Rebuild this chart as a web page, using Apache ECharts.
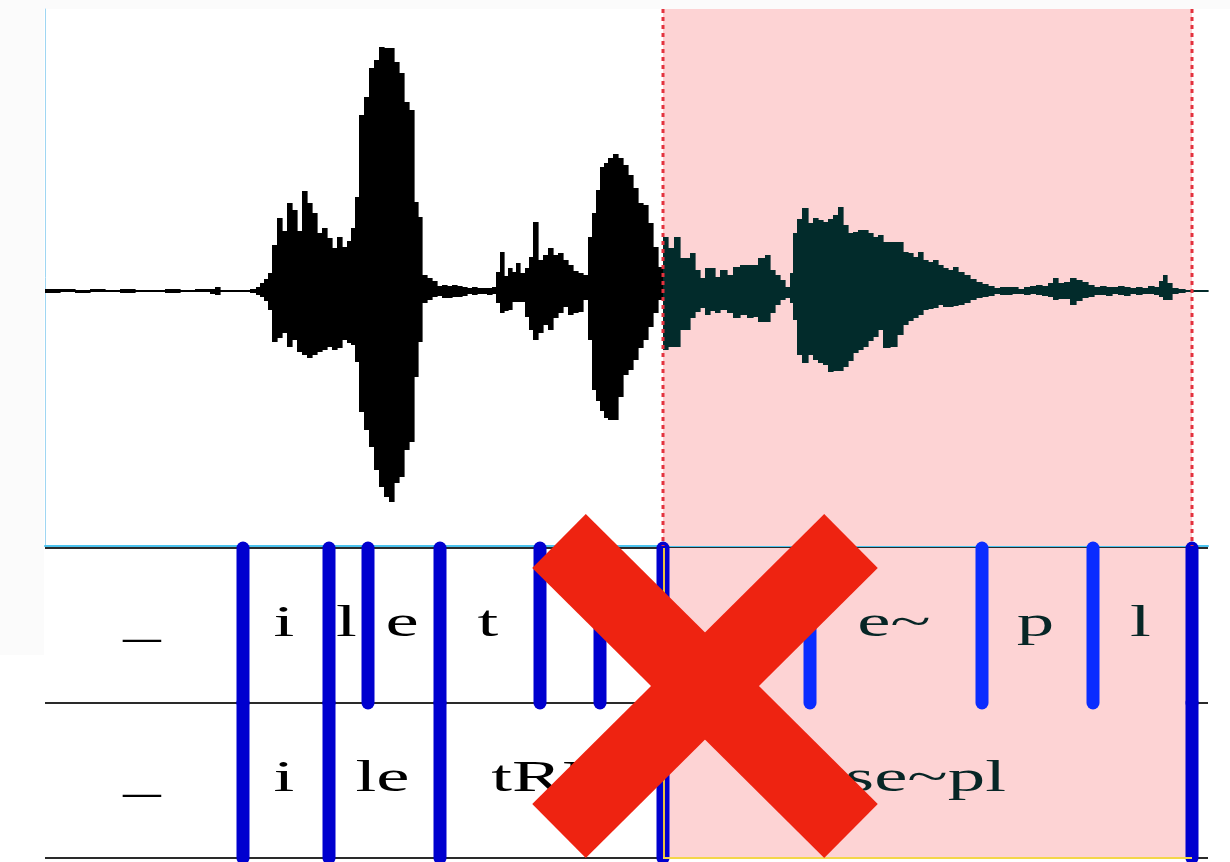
<!DOCTYPE html>
<html><head><meta charset="utf-8">
<script src="https://cdn.jsdelivr.net/npm/echarts@6/dist/echarts.min.js"></script>
<style>html,body{margin:0;padding:0;background:#fff}#c{width:1230px;height:862px}</style>
</head><body><div id="c"></div>
<script>
// time (ms) of each waveform column, and its upper / lower amplitude (arbitrary units)
const waveTime = [0,15,30,45,60,75,90,105,120,135,150,165,170,175,190,205,
  211,215,219,223,227,232,237,242,247,252,257,262,267,272,
  277,282,287,292,297,302,306,310,314,319,324,329,334,339,344,349,354,359,364,369,
  373,377,382,387,392,397,402,407,412,417,422,427,432,437,442,447,451,455,459,463,
  467,471,475,480,484,488,493,498,503,508,513,518,523,528,533,538,543,547,551,555,
  559,563,568,573,578,583,588,593,598,603,608,613,618,623,629,635,640,645,650,655,
  660,665,670,675,682,688,695,702,708,713,720,725,730,735,740,745,748,752,757,763,
  768,773,778,783,788,793,798,803,808,813,818,823,828,833,838,845,852,858,863,868,
  873,878,883,888,893,898,903,908,913,919,925,931,937,943,949,955,961,967,973,979,
  985,991,997,1003,1008,1013,1019,1025,1031,1037,1043,1049,1055,1061,1067,1073,1079,1085,1091,1097,
  1103,1109,1114,1118,1122,1127,1133,1140,1147,1155];
const waveMax = [2,2,1,2,1,2,1,1,2,1,2,2,4,1,1,2,
  4,8,12,18,46,73,60,88,81,60,100,88,78,58,
  63,53,43,54,44,50,63,94,176,194,223,231,244,243,243,229,218,189,181,89,
  74,16,13,10,5,6,5,6,5,4,3,4,3,3,3,4,19,39,15,23,
  19,28,18,23,34,69,31,36,43,36,38,31,26,20,18,16,54,78,101,124,
  128,133,137,133,126,116,103,88,86,68,44,24,54,43,54,33,33,38,21,13,
  23,23,14,21,16,24,26,26,26,33,36,21,16,11,4,18,58,72,83,68,
  73,71,69,72,76,84,66,58,59,61,61,58,54,56,49,49,49,39,38,34,
  39,31,29,31,26,23,21,24,19,16,12,9,7,5,3,4,4,4,2,4,
  5,6,5,8,13,8,9,13,11,9,6,4,5,4,4,5,4,3,4,3,
  5,4,10,16,8,3,2,1,1,1];
const waveMin = [-2,-1,-2,-1,-1,-2,-1,-1,-2,-1,-1,-3,-4,-1,-1,-2,
  -4,-6,-10,-19,-51,-47,-42,-56,-49,-61,-64,-67,-64,-61,
  -59,-56,-59,-57,-49,-52,-54,-71,-121,-139,-156,-179,-196,-206,-211,-192,-186,-159,-151,-86,
  -51,-12,-9,-6,-5,-7,-7,-6,-6,-5,-3,-4,-3,-3,-4,-3,-12,-22,-20,-19,
  -11,-11,-11,-26,-39,-49,-42,-34,-39,-27,-22,-16,-24,-22,-21,-9,-49,-99,-110,-120,
  -127,-129,-129,-106,-84,-79,-69,-57,-49,-36,-22,-9,-59,-56,-56,-39,-39,-27,-21,-17,
  -24,-20,-22,-19,-22,-27,-24,-27,-26,-31,-31,-22,-14,-9,-7,-12,-29,-64,-72,-64,
  -69,-72,-74,-81,-80,-80,-76,-70,-62,-59,-56,-50,-46,-39,-57,-56,-44,-34,-30,-27,
  -24,-19,-18,-17,-14,-16,-16,-15,-14,-12,-9,-7,-6,-5,-3,-4,-4,-3,-3,-4,
  -3,-4,-5,-6,-9,-8,-8,-14,-10,-7,-6,-4,-4,-5,-3,-4,-5,-3,-4,-3,
  -3,-4,-6,-9,-9,-3,-2,-1,-1,-1];
const waveEnd = 1163;
const selection = [618, 1147];
const tier1Bounds = [0,198,284,323,395,495,555,618,765,937,1048,1147,1163];
const tier1Labels = ['_','i','l','e','t','','E','s','e~','p','l',''];
const tier2Bounds = [0,198,284,395,618,1147,1163];
const tier2Labels = ['_','i','le','tRE','se~pl',''];

const tiers = [{b: tier1Bounds, l: tier1Labels}, {b: tier2Bounds, l: tier2Labels}];
const inSel = t => t > selection[0] + 0.5 && t < selection[1] - 0.5;

const waveData = waveTime.map((t, i) => [t, waveMax[i], waveMin[i], i + 1 < waveTime.length ? waveTime[i + 1] : waveEnd]);
const boundData = [];
const labelData = [];
tiers.forEach((tr, k) => {
  for (let i = 1; i < tr.b.length - 1; i++) boundData.push([tr.b[i], k, k + 1]);
  for (let i = 0; i < tr.l.length; i++) labelData.push([tr.b[i], tr.b[i + 1], k, i]);
});

const chart = echarts.init(document.getElementById('c'), null, {renderer: 'canvas'});
chart.setOption({
  animation: false,
  backgroundColor: '#ffffff',
  grid: [
    {left: 45, width: 1163, top: 9, height: 537},
    {left: 45, width: 1163, top: 548, height: 310}
  ],
  xAxis: [
    {gridIndex: 0, type: 'value', min: 0, max: waveEnd, axisLine: {onZero: false, lineStyle: {color: '#4cc3ee', width: 2}},
     axisTick: {show: false}, axisLabel: {show: false}, splitLine: {show: false}},
    {gridIndex: 1, type: 'value', min: 0, max: waveEnd, show: false}
  ],
  yAxis: [
    {gridIndex: 0, type: 'value', min: -255, max: 282, axisLine: {show: true, lineStyle: {color: '#9fd6f2', width: 1}},
     axisTick: {show: false}, axisLabel: {show: false}, splitLine: {show: false}},
    {gridIndex: 1, type: 'value', min: 0, max: 2, interval: 1, inverse: true, axisLine: {show: false},
     axisTick: {show: false}, axisLabel: {show: false}, splitLine: {show: true, lineStyle: {color: '#2a2a2a', width: 2}}}
  ],
  graphic: [
    {type: 'rect', z: -10, silent: true, shape: {x: 0, y: 0, width: 1230, height: 9}, style: {fill: '#fbfbfb'}},
    {type: 'rect', z: -10, silent: true, shape: {x: 0, y: 0, width: 44, height: 655}, style: {fill: '#fbfbfb'}},
    {type: 'line', z: 100, silent: true, shape: {x1: 559, y1: 541, x2: 851, y2: 831}, style: {stroke: '#ee2311', lineWidth: 76, lineCap: 'butt'}},
    {type: 'line', z: 100, silent: true, shape: {x1: 851, y1: 541, x2: 559, y2: 831}, style: {stroke: '#ee2311', lineWidth: 76, lineCap: 'butt'}}
  ],
  series: [
    {
      type: 'custom', name: 'selection', xAxisIndex: 0, yAxisIndex: 0, z: 1, silent: true,
      data: [selection],
      renderItem: (p, api) => {
        const a = api.coord([api.value(0), 0]), b = api.coord([api.value(1), 0]);
        const cs = p.coordSys;
        return {type: 'rect', shape: {x: a[0], y: cs.y, width: b[0] - a[0], height: cs.height}, style: {fill: '#fdd3d4'}};
      }
    },
    {
      type: 'custom', name: 'selection2', xAxisIndex: 1, yAxisIndex: 1, z: 1, silent: true,
      data: [selection],
      renderItem: (p, api) => {
        const a = api.coord([api.value(0), 0]), b = api.coord([api.value(1), 2]);
        return {type: 'rect', shape: {x: a[0], y: a[1], width: b[0] - a[0], height: b[1] - a[1]}, style: {fill: '#fdd3d4'}};
      }
    },
    {
      type: 'custom', name: 'waveform', xAxisIndex: 0, yAxisIndex: 0, z: 3, silent: true,
      encode: {x: [0, 3], y: [1, 2]},
      data: waveData,
      renderItem: (p, api) => {
        const t0 = api.value(0), t1 = api.value(3);
        const a = api.coord([t0, api.value(1)]), b = api.coord([t1, api.value(2)]);
        return {type: 'rect', shape: {x: a[0], y: a[1], width: b[0] - a[0] + 0.6, height: Math.max(1.5, b[1] - a[1])},
          style: {fill: t0 >= selection[0] ? '#022b2b' : '#000000'}};
      }
    },
    {
      type: 'custom', name: 'selEdges', xAxisIndex: 0, yAxisIndex: 0, z: 5, silent: true,
      data: selection.map(t => [t]),
      renderItem: (p, api) => {
        const a = api.coord([api.value(0), 0]);
        const cs = p.coordSys;
        return {type: 'line', shape: {x1: a[0], y1: cs.y, x2: a[0], y2: cs.y + cs.height},
          style: {stroke: '#e3323e', lineWidth: 3, lineDash: [4, 4]}};
      }
    },
    {
      type: 'custom', name: 'boundaries', xAxisIndex: 1, yAxisIndex: 1, z: 4, silent: true,
      data: boundData,
      renderItem: (p, api) => {
        const t = api.value(0);
        const a = api.coord([t, api.value(1)]), b = api.coord([t, api.value(2)]);
        return {type: 'line', shape: {x1: a[0], y1: a[1], x2: b[0], y2: b[1]},
          style: {stroke: inSel(t) ? '#0a2cff' : '#0000cf', lineWidth: 13, lineCap: 'round'}};
      }
    },
    {
      type: 'custom', name: 'selEdgeTier', xAxisIndex: 1, yAxisIndex: 1, z: 6, silent: true,
      data: [selection],
      renderItem: (p, api) => {
        const a = api.coord([api.value(0), 0]), b = api.coord([api.value(1), 2]);
        return {type: 'group', children: [
          {type: 'line', shape: {x1: a[0] + 1, y1: a[1], x2: a[0] + 1, y2: b[1]}, style: {stroke: '#e8c040', lineWidth: 2}},
          {type: 'line', shape: {x1: a[0], y1: b[1], x2: b[0], y2: b[1]}, style: {stroke: '#f3d64a', lineWidth: 2}}
        ]};
      }
    },
    {
      type: 'custom', name: 'labels', xAxisIndex: 1, yAxisIndex: 1, z: 7, silent: true,
      data: labelData,
      renderItem: (p, api) => {
        const s = api.value(0), e = api.value(1), k = api.value(2), i = api.value(3);
        const mid = (s + e) / 2;
        const c = api.coord([mid, k + 0.5]);
        return {type: 'text', x: c[0] - 2, y: c[1] - 1, scaleX: 1.7, scaleY: 1,
          style: {text: tiers[k].l[i], x: 0, y: 0, fontSize: 44, fontWeight: 'normal', fontFamily: '"Liberation Serif", "DejaVu Serif", serif',
            fill: inSel(mid) ? '#072626' : '#000000', textAlign: 'center', textVerticalAlign: 'middle'}};
      }
    }
  ]
});
</script></body></html>
